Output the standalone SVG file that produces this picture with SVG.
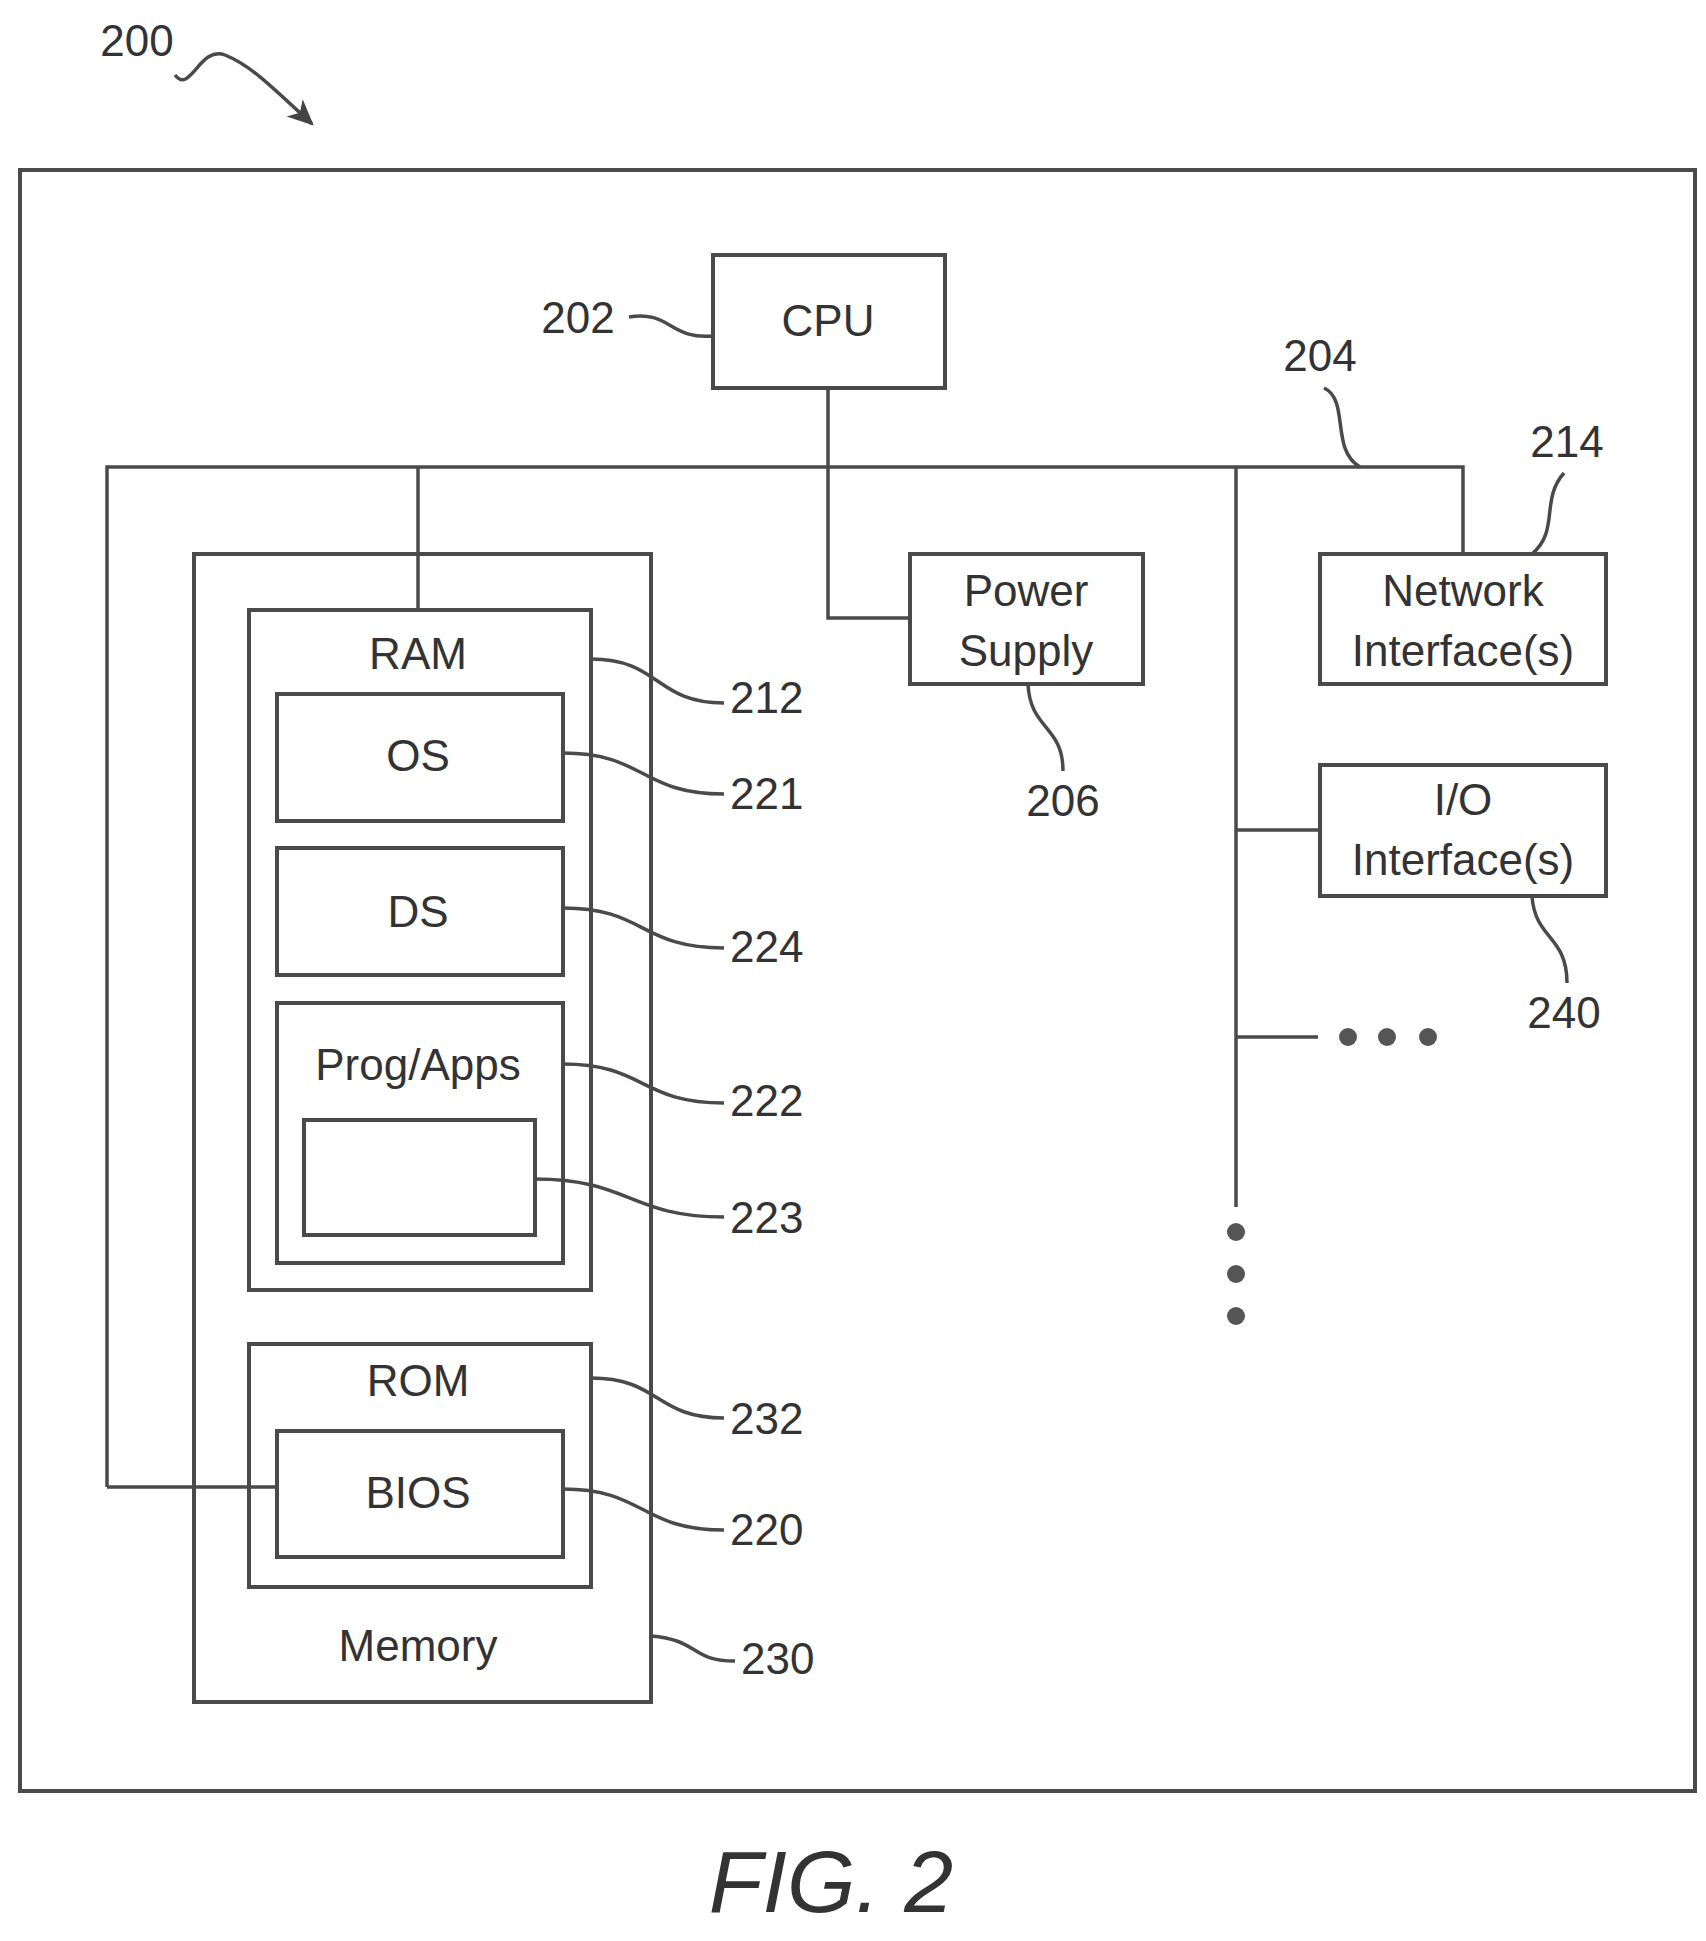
<svg xmlns="http://www.w3.org/2000/svg" width="1706" height="1941" viewBox="0 0 1706 1941">
<defs>
<marker id="ah" markerWidth="26" markerHeight="26" refX="20" refY="10" orient="auto" markerUnits="userSpaceOnUse" viewBox="0 0 22 20"><path d="M0,0 L22,10 L0,20 L6,10 Z" fill="#444"/></marker>
</defs>
<style>
.b{fill:#fff;stroke:#4a4a4a;stroke-width:4}
.l{fill:none;stroke:#4a4a4a;stroke-width:3.5}
.t{font-family:"Liberation Sans",Arial,sans-serif;font-size:44px;fill:#333;text-anchor:middle}
.n{font-family:"Liberation Sans",Arial,sans-serif;font-size:44px;fill:#333}
</style>
<rect width="1706" height="1941" fill="#fff"/>
<rect id="outer" class="b" x="20" y="170" width="1675" height="1621"/>
<g id="memory"><rect class="b" x="194" y="554" width="457" height="1148"/><text class="t" x="418" y="1661">Memory</text></g>
<g id="ram"><rect class="b" x="249" y="610" width="342" height="680"/><text class="t" x="418" y="669">RAM</text></g>
<g id="os"><rect class="b" x="277" y="694" width="286" height="127"/><text class="t" x="418" y="771">OS</text></g>
<g id="ds"><rect class="b" x="277" y="848" width="286" height="127"/><text class="t" x="418" y="927">DS</text></g>
<g id="prog"><rect class="b" x="277" y="1003" width="286" height="260"/><text class="t" x="418" y="1080">Prog/Apps</text></g>
<g id="box223"><rect class="b" x="304" y="1120" width="231" height="115"/></g>
<g id="rom"><rect class="b" x="249" y="1344" width="342" height="243"/><text class="t" x="418" y="1396">ROM</text></g>
<g id="bios"><rect class="b" x="277" y="1431" width="286" height="126"/><text class="t" x="418" y="1508">BIOS</text></g>
<g id="cpu"><rect class="b" x="713" y="255" width="232" height="133"/><text class="t" x="828" y="336">CPU</text></g>
<g id="power"><rect class="b" x="910" y="554" width="233" height="130"/><text class="t" x="1026" y="606">Power</text><text class="t" x="1026" y="666">Supply</text></g>
<g id="network"><rect class="b" x="1320" y="554" width="286" height="130"/><text class="t" x="1463" y="606">Network</text><text class="t" x="1463" y="666">Interface(s)</text></g>
<g id="io"><rect class="b" x="1320" y="765" width="286" height="131"/><text class="t" x="1463" y="815">I/O</text><text class="t" x="1463" y="875">Interface(s)</text></g>
<g id="connectors">
<path class="l" d="M107,1487 L107,467 L1463,467 L1463,554"/>
<path class="l" d="M107,1487 L277,1487"/>
<path class="l" d="M418,467 L418,610"/>
<path class="l" d="M828,388 L828,618 L910,618"/>
<path class="l" d="M1236,467 L1236,1207"/>
<path class="l" d="M1236,830 L1320,830"/>
<path class="l" d="M1236,1037 L1318,1037"/>
</g>
<g id="dots" fill="#555">
<circle cx="1348" cy="1037" r="9"/><circle cx="1387" cy="1037" r="9"/><circle cx="1428" cy="1037" r="9"/>
<circle cx="1236" cy="1232" r="9"/><circle cx="1236" cy="1274" r="9"/><circle cx="1236" cy="1316" r="9"/>
</g>
<g id="labels">
<path class="l" d="M175,75 C190,95 200,45 225,55 C250,65 270,85 312,124" marker-end="url(#ah)"/>
<text class="t" x="137" y="56">200</text>
<path class="l" d="M629,317 C670,310 670,340 713,336"/><text class="t" x="578" y="333">202</text>
<path class="l" d="M1324,388 C1350,400 1330,450 1360,467"/><text class="t" x="1320" y="371">204</text>
<path class="l" d="M1564,473 C1540,500 1560,530 1532,554"/><text class="t" x="1567" y="457">214</text>
<path class="l" d="M1028,684 C1030,730 1063,725 1063,771"/><text class="t" x="1063" y="816">206</text>
<path class="l" d="M1532,896 C1535,940 1567,935 1567,983"/><text class="t" x="1564" y="1028">240</text>
<path class="l" d="M591,659 C660,659 655,703 724,703"/><text class="n" x="730" y="713">212</text>
<path class="l" d="M563,753 C645,753 640,794 724,794"/><text class="n" x="730" y="809">221</text>
<path class="l" d="M563,908 C645,908 640,948 724,948"/><text class="n" x="730" y="962">224</text>
<path class="l" d="M563,1064 C645,1064 640,1103 724,1103"/><text class="n" x="730" y="1116">222</text>
<path class="l" d="M535,1179 C630,1179 630,1217 724,1217"/><text class="n" x="730" y="1233">223</text>
<path class="l" d="M591,1378 C660,1378 655,1418 724,1418"/><text class="n" x="730" y="1434">232</text>
<path class="l" d="M563,1489 C645,1489 640,1530 724,1530"/><text class="n" x="730" y="1545">220</text>
<path class="l" d="M651,1636 C700,1640 690,1661 735,1661"/><text class="n" x="741" y="1674">230</text>
</g>
<text x="831" y="1912" style="font-family:'Liberation Sans',Arial,sans-serif;font-size:88px;font-style:italic;fill:#333;text-anchor:middle">FIG. 2</text>
</svg>
